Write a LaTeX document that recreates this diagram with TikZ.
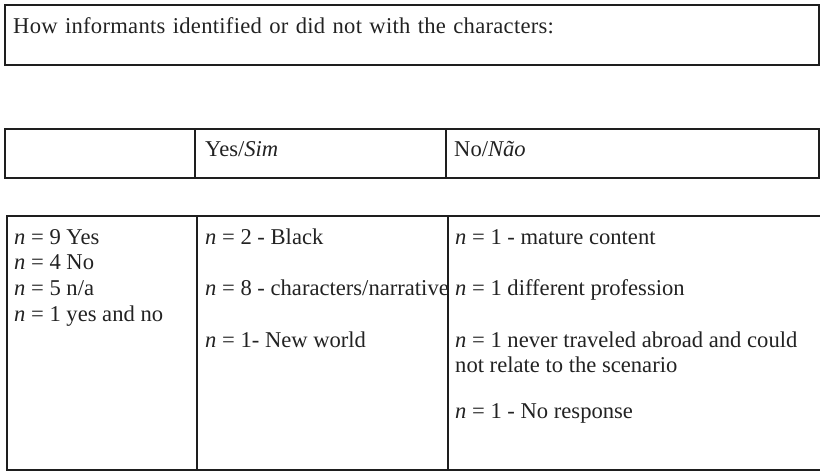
\documentclass[tikz,border=0pt]{standalone}
\usepackage{fontspec}
\setmainfont{Liberation Serif}
\newfontfamily\titlefont[WordSpace=1.25,LetterSpace=1.2]{Liberation Serif}
\usepackage{tikz}
\usetikzlibrary{positioning}
\definecolor{tline}{HTML}{1E1E1E}
\definecolor{ttext}{HTML}{222222}
\tikzset{
  frame/.style={draw=tline, line width=1.2pt},
  cell/.style={anchor=base west, inner sep=0pt, text=ttext, font=\fontsize{22.6pt}{25pt}\selectfont},
}
\newcommand{\nn}{\textit{n} = }

\begin{document}
\begin{tikzpicture}[x=1pt, y=-1pt]
  \useasboundingbox (0,0) rectangle (820,473);
  % caption box
  \draw[frame] (5,5) rectangle (819,65);
  \node[cell, font=\titlefont\fontsize{22.6pt}{25pt}\selectfont] (title) at (13,34) {How informants identified or did not with the characters:};

  % header row
  \draw[frame] (5,129) rectangle (819,178);
  \draw[frame] (195,129) -- (195,178);
  \draw[frame] (446,129) -- (446,178);
  \node[cell] (hyes) at (205,157) {Yes/\textit{Sim}};
  \node[cell] (hno) at (454,157) {No/\textit{Não}};

  % body
  \draw[frame] (7,216) rectangle (822,470);
  \draw[frame] (197,216) -- (197,470);
  \draw[frame] (448,216) -- (448,470);

  \node[cell] (yes) at (14,245) {\nn 9 Yes};
  \node[cell] (no) at (14,270) {\nn 4 No};
  \node[cell] (na) at (14,296) {\nn 5 n/a};
  \node[cell] (both) at (14,322) {\nn 1 yes and no};

  \node[cell] (black) at (205,245) {\nn 2 - Black};
  \node[cell] (narr) at (205,296) {\nn 8 - characters/narrative};
  \node[cell] (world) at (205,348) {\nn 1- New world};

  \node[cell] (mature) at (455,245) {\nn 1 - mature content};
  \node[cell] (prof) at (455,296) {\nn 1 different profession};
  \node[cell] (abroad) at (455,348) {\nn 1 never traveled abroad and could};
  \node[cell] (relate) at (455,372) {not relate to the scenario};
  \node[cell] (resp) at (455,418) {\nn 1 - No response};
\end{tikzpicture}
\end{document}
